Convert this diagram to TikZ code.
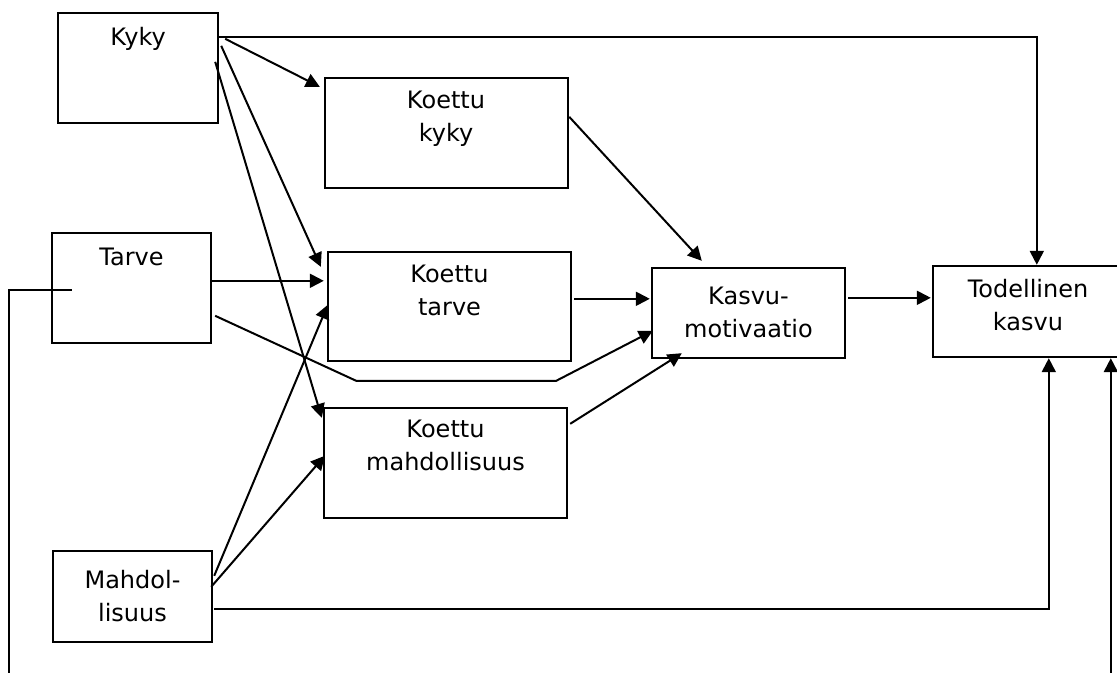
\documentclass[tikz,border=0pt]{standalone}
\usepackage{fontspec}
\setmainfont{DejaVu Sans}
\usetikzlibrary{arrows.meta,calc}

\tikzset{
  bx/.style 2 args={draw, line width=1.8pt, inner sep=0pt,
    minimum width=#1*0.75pt, minimum height=#2*0.75pt},
  lbl/.style={anchor=north, align=center, inner sep=0pt,
    font=\fontsize{18pt}{24.4pt}\selectfont},
  arr/.style={line width=1.5pt, -{Triangle[length=10.5pt,width=10.5pt]}}
}

\begin{document}
\begin{tikzpicture}[x=0.75pt,y=0.75pt,yscale=-1,xscale=1]
        \useasboundingbox (0,0) rectangle (1117,672);

        % Boxes
        \node [bx={160}{110}] (kyky) at (138,68) {};
        \node [bx={159}{110}] (tarve) at (131.5,288) {};
        \node [bx={159}{91}] (mahd) at (132.5,596.5) {};
        \node [bx={243}{110}] (kkyky) at (446.5,133) {};
        \node [bx={243}{109}] (ktarve) at (449.5,306.5) {};
        \node [bx={243}{110}] (kmahd) at (445.5,463) {};
        \node [bx={193}{90}] (motiv) at (748.5,313) {};
        \node [bx={187}{91}] (tod) at (1026.5,311.5) {};

        % Text Nodes
        \node [lbl] (kykyt) at (138,27) {Kyky};
        \node [lbl] (tarvet) at (131.5,248) {Tarve};
        \node [lbl] (mahdt) at (132.5,570) {Mahdol-\\lisuus};
        \node [lbl] (kkykyt) at (446,91) {Koettu\\kyky};
        \node [lbl] (ktarvet) at (449.5,265) {Koettu\\tarve};
        \node [lbl] (kmahdt) at (445.5,420) {Koettu\\mahdollisuus};
        \node [lbl] (motivt) at (748.5,287) {Kasvu-\\motivaatio};
        \node [lbl] (todt) at (1028,279) {Todellinen\\kasvu};

        % From Kyky
        \draw [arr] ($(kyky.north east)+(0,25)$) -| ($(tod.north west)+(105,0)$);
        \draw [arr] ($(kyky.north east)+(6,27)$) -- ($(kkyky.north west)+(-4,10)$);
        \draw [arr] ($(kyky.north east)+(2,34)$) -- ($(ktarve.north west)+(-6,16)$);
        \draw [arr] ($(kyky.north east)+(-4,50)$) -- ($(kmahd.north west)+(-1,11)$);

        % From Tarve
        \draw [arr] ($(tarve.north east)+(0,49)$) -- ($(ktarve.north west)+(-3,30)$);
        \draw [arr] ($(tarve.north east)+(3,84)$) -- ++(141,65) -- ++(200,0) -- ($(motiv.north west)+(2,64)$);
        \draw [arr] ($(tarve.north west)+(21,58)$) -- ++(-63,0) -- ++(0,400) -| ($(tod.south west)+(179,0)$);

        % From Mahdollisuus
        \draw [arr] ($(mahd.north east)+(1,26)$) -- ($(ktarve.north west)+(1,54)$);
        \draw [arr] ($(mahd.north east)+(-2,37)$) -- ($(kmahd.north west)+(2,49)$);
        \draw [arr] ($(mahd.north east)+(1,59)$) -| ($(tod.south west)+(117,0)$);

        % To Kasvumotivaatio
        \draw [arr] ($(kkyky.north east)+(0,40)$) -- ($(motiv.north west)+(51,-6)$);
        \draw [arr] ($(ktarve.north east)+(2,48)$) -- ($(motiv.north west)+(-1,32)$);
        \draw [arr] ($(kmahd.north east)+(2,17)$) -- ($(motiv.south west)+(31,-6)$);

        % To Todellinen kasvu
        \draw [arr] ($(motiv.north east)+(2,31)$) -- ($(tod.north west)+(-1,33)$);

\end{tikzpicture}
\end{document}
